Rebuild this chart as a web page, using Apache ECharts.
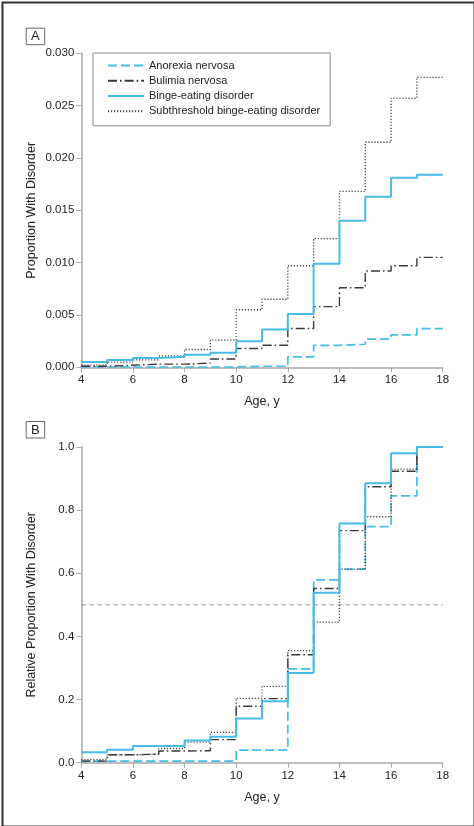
<!DOCTYPE html>
<html>
<head>
<meta charset="utf-8">
<script src="https://cdn.jsdelivr.net/npm/echarts@6/dist/echarts.min.js"></script>
<style>
html,body{margin:0;padding:0;background:#fff;}
#chart{width:474px;height:826px;}
</style>
</head>
<body>
<div id="chart"></div>
<script>
// ---- Data ----
const ages = [4,5,6,7,8,9,10,11,12,13,14,15,16,17,18];
const seriesNames = ['Anorexia nervosa','Bulimia nervosa','Binge-eating disorder','Subthreshold binge-eating disorder'];
// Panel A: proportion with disorder, value holding on [age, age+1)
const anorexiaA = [0.00003,0.00003,0.00003,0.00003,0.00003,0.00003,0.0001,0.0001,0.0010,0.0021,0.0022,0.0027,0.0031,0.0037];
const bulimiaA  = [0.0001,0.0002,0.0003,0.0003,0.0004,0.0008,0.0018,0.0021,0.0037,0.0058,0.0076,0.0092,0.0097,0.0105];
const bingeA    = [0.0005,0.0007,0.0009,0.0010,0.0012,0.0014,0.0025,0.0036,0.0051,0.0099,0.0140,0.0163,0.0181,0.0184];
const subA      = [0.0002,0.0005,0.0007,0.0011,0.0017,0.0026,0.0055,0.0065,0.0097,0.0123,0.0168,0.0215,0.0257,0.0277];
// Panel B: relative proportion with disorder
const anorexiaB = [0.005,0.005,0.005,0.005,0.005,0.005,0.040,0.040,0.297,0.579,0.613,0.748,0.845,1.000];
const bulimiaB  = [0.005,0.025,0.027,0.037,0.038,0.073,0.179,0.203,0.342,0.552,0.735,0.874,0.923,1.000];
const bingeB    = [0.033,0.041,0.053,0.053,0.070,0.082,0.140,0.195,0.284,0.538,0.758,0.885,0.980,1.000];
const subB      = [0.010,0.025,0.027,0.045,0.065,0.096,0.204,0.242,0.355,0.445,0.613,0.779,0.930,1.000];
const refLineX = [4,18];
const refLineY = [0.5,0.5];

// ---- Styles ----
const FONT = "'Liberation Sans',Arial,sans-serif";
const BLUE = '#45bce9';
const DARK = '#383838';
const styles = [
  {color: BLUE, width: 1.7, type: [9,4]},
  {color: DARK, width: 1.4, type: [9,3,1.6,3]},
  {color: BLUE, width: 2, type: 'solid'},
  {color: '#444', width: 1.3, type: [1.2,1.8]}
];

function stepData(vals){
  return ages.map((a,i)=>[a, vals[Math.min(i, vals.length-1)]]);
}

function makeSeries(valsList, xi, yi){
  return valsList.map((vals, k)=>({
    name: seriesNames[k],
    type: 'line',
    step: 'end',
    xAxisIndex: xi, yAxisIndex: yi,
    showSymbol: false, symbol: 'none',
    silent: true,
    lineStyle: {color: styles[k].color, width: styles[k].width, type: styles[k].type},
    itemStyle: {color: styles[k].color},
    data: stepData(vals),
    z: k === 2 ? 3 : 2
  }));
}

const axisCommon = {
  axisLine: {show: true, lineStyle: {color: '#a8a8a8', width: 1.5}},
  axisTick: {show: true, length: 5, lineStyle: {color: '#a8a8a8', width: 1}},
  splitLine: {show: false},
  axisLabel: {color: '#222', fontSize: 11.5, fontFamily: FONT, margin: 7},
  nameTextStyle: {color: '#222', fontSize: 12.5, fontFamily: FONT},
  nameMoveOverlap: false
};

function xAxisDef(gi){
  return Object.assign({}, axisCommon, {
    type: 'value', gridIndex: gi, min: 4, max: 18, interval: 2,
    name: 'Age, y', nameLocation: 'middle', nameGap: 28,
    axisLabel: Object.assign({}, axisCommon.axisLabel, {formatter: v => String(v)})
  });
}

const refSeries = {
  name: 'ref', type: 'line', xAxisIndex: 1, yAxisIndex: 1,
  showSymbol: false, symbol: 'none', silent: true,
  lineStyle: {color: '#9a9a9a', width: 1, type: [5,3]},
  data: refLineX.map((x,i)=>[x, refLineY[i]]), z: 1
};

function panelLabel(letter, x, y){
  return {
    type: 'group', left: x, top: y,
    children: [
      {type: 'rect', shape: {x: 0, y: 0, width: 18.5, height: 16.5},
       style: {fill: '#fff', stroke: '#666', lineWidth: 1}},
      {type: 'text', style: {text: letter, x: 9.25, y: 8.5, fill: '#222',
        font: '13px ' + FONT, textAlign: 'center', textVerticalAlign: 'middle'}}
    ]
  };
}

const option = {
  animation: false,
  backgroundColor: '#fff',
  grid: [
    {left: 81.3, right: 31.3, top: 53.3, height: 314, containLabel: false},
    {left: 81.3, right: 31.3, top: 447, height: 315.7, containLabel: false}
  ],
  xAxis: [xAxisDef(0), xAxisDef(1)],
  yAxis: [
    Object.assign({}, axisCommon, {
      type: 'value', gridIndex: 0, min: 0, max: 0.03, interval: 0.005,
      name: 'Proportion With Disorder', nameLocation: 'middle', nameGap: 43,
      axisLabel: Object.assign({}, axisCommon.axisLabel, {formatter: v => v.toFixed(3)})
    }),
    Object.assign({}, axisCommon, {
      type: 'value', gridIndex: 1, min: 0, max: 1, interval: 0.2,
      name: 'Relative Proportion With Disorder', nameLocation: 'middle', nameGap: 43,
      axisLabel: Object.assign({}, axisCommon.axisLabel, {formatter: v => v.toFixed(1)})
    })
  ],
  legend: {
    show: true,
    data: seriesNames,
    orient: 'vertical',
    left: 93, top: 53,
    padding: [7, 10, 9, 14],
    itemWidth: 36, itemHeight: 14, itemGap: 4, itemTextGap: 5,
    selectedMode: false,
    borderColor: '#888', borderWidth: 1,
    backgroundColor: '#fff',
    itemStyle: {opacity: 0, borderWidth: 0},
    textStyle: {color: '#222', fontSize: 11, fontFamily: FONT}
  },
  graphic: [
    panelLabel('A', 25.7, 27.7),
    panelLabel('B', 25.7, 421),
    {type: 'rect', left: 0, top: 0, shape: {x: 1, y: 1, width: 472, height: 824},
     style: {fill: 'none', stroke: '#333', lineWidth: 2}, silent: true}
  ],
  series: [
    ...makeSeries([anorexiaA, bulimiaA, bingeA, subA], 0, 0),
    refSeries,
    ...makeSeries([anorexiaB, bulimiaB, bingeB, subB], 1, 1)
  ]
};

const chart = echarts.init(document.getElementById('chart'), null, {renderer: 'canvas'});
chart.setOption(option);
</script>
</body>
</html>
